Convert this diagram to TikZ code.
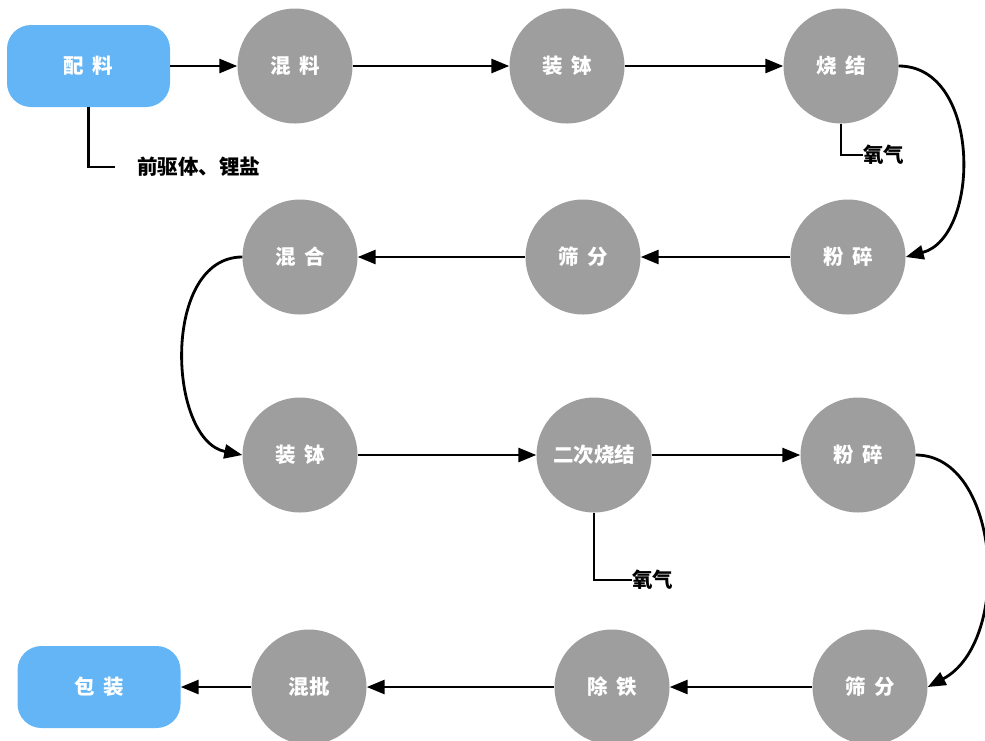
\documentclass[tikz,border=0pt]{standalone}
\usepackage{fontspec}
\setmainfont{Noto Sans CJK SC}
\usetikzlibrary{arrows.meta}
\definecolor{cgray}{HTML}{9E9E9E}
\definecolor{cblue}{HTML}{64B5F6}
\newcommand{\gp}{\hspace{0.4em}}
\begin{document}
\begin{tikzpicture}[x=1pt,y=-1pt,
  proc/.style={circle, fill=cgray, minimum size=115pt, inner sep=0pt, text=white, font=\fontsize{20.5}{24}\selectfont\bfseries},
  term/.style={rectangle, rounded corners=24pt, fill=cblue, minimum width=163pt, minimum height=82pt, inner sep=0pt, text=white, font=\fontsize{20.5}{24}\selectfont\bfseries},
  flow/.style={line width=2.8pt, -{Triangle[length=18pt,width=14pt]}},
  tie/.style={line width=2.8pt},
  side/.style={font=\fontsize{20.5}{24}\selectfont\bfseries, anchor=west, inner sep=0pt}]
\useasboundingbox (0,0) rectangle (985,740);
% row 1
\node[term] (peiliao) at (88.5,66) {配\gp 料};
\node[proc] (hunliao) at (295,66) {混\gp 料};
\node[proc] (zhuangbo1) at (567,66) {装\gp 钵};
\node[proc] (shaojie1) at (841,66) {烧\gp 结};
% row 2
\node[proc] (fensui1) at (848,257) {粉\gp 碎};
\node[proc] (shaifen1) at (583,257) {筛\gp 分};
\node[proc] (hunhe) at (300,257) {混\gp 合};
% row 3
\node[proc] (zhuangbo2) at (300,455) {装\gp 钵};
\node[proc] (ercishaojie) at (594,455) {二次烧结};
\node[proc] (fensui2) at (858,455) {粉\gp 碎};
% row 4
\node[proc] (shaifen2) at (870,687) {筛\gp 分};
\node[proc] (chutie) at (612,687) {除\gp 铁};
\node[proc] (hunpi) at (309,687) {混批};
\node[term] (baozhuang) at (99,687) {包\gp 装};
% side labels
\node[side, inner xsep=22pt] (qianqu) at (115,167) {前驱体、锂盐};
\node[side] (yangqi1) at (863,155) {氧气};
\node[side] (yangqi2) at (632,580) {氧气};
\draw[tie] (peiliao.south) |- (qianqu.west);
\draw[tie] (shaojie1.south) |- (yangqi1.west);
\draw[tie] (ercishaojie.south) |- (yangqi2.west);
% flows
\draw[flow] (peiliao.east) -- (hunliao.west);
\draw[flow] (hunliao.east) -- (zhuangbo1.west);
\draw[flow] (zhuangbo1.east) -- (shaojie1.west);
\draw[flow] (shaojie1.east) .. controls +(83,0) and +(75,-20) .. (fensui1.east);
\draw[flow] (fensui1.west) -- (shaifen1.east);
\draw[flow] (shaifen1.west) -- (hunhe.east);
\draw[flow] (hunhe.west) .. controls +(-81,0) and +(-75,-15) .. (zhuangbo2.west);
\draw[flow] (zhuangbo2.east) -- (ercishaojie.west);
\draw[flow] (ercishaojie.east) -- (fensui2.west);
\draw[flow] (fensui2.east) .. controls +(85,0) and +(85,-45) .. (shaifen2.east);
\draw[flow] (shaifen2.west) -- (chutie.east);
\draw[flow] (chutie.west) -- (hunpi.east);
\draw[flow] (hunpi.west) -- (baozhuang.east);
\end{tikzpicture}
\end{document}
